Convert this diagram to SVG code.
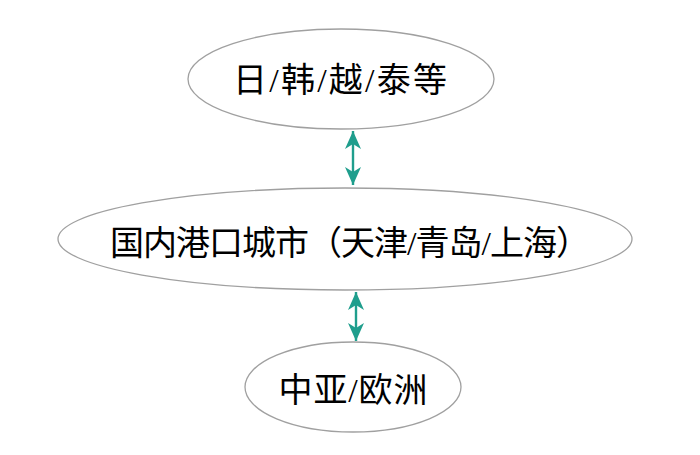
<svg xmlns="http://www.w3.org/2000/svg" width="700" height="455" viewBox="0 0 700 455">
<defs>
<style>
.node ellipse{fill:#ffffff;stroke:#a0a0a0;stroke-width:1.3}
.node text{font-family:"Liberation Serif","Noto Sans CJK SC",serif;font-size:34px;fill:#000;text-anchor:middle}
.conn{stroke:#1f9e8d;stroke-width:2.4;fill:none;marker-start:url(#ah);marker-end:url(#ah)}
</style>
<marker id="ah" viewBox="0 0 18 16" markerWidth="18" markerHeight="16" refX="18" refY="8" orient="auto-start-reverse" markerUnits="userSpaceOnUse">
<path d="M0,0 L18,8 L0,16 L5,8 Z" fill="#1f9e8d"/>
</marker>
</defs>
<rect width="700" height="455" fill="#ffffff"/>
<g id="connectors">
<line class="conn" x1="353" y1="131" x2="353" y2="185"/>
<line class="conn" x1="356" y1="292" x2="356" y2="341"/>
</g>
<g id="node-top" class="node">
<ellipse cx="341" cy="79" rx="153" ry="50"/>
<text x="340" y="92" textLength="214" lengthAdjust="spacing">日/韩/越/泰等</text>
</g>
<g id="node-middle" class="node">
<ellipse cx="345" cy="239" rx="287" ry="51"/>
<text x="350" y="255" font-size="33" textLength="480" lengthAdjust="spacing">国内港口城市（天津/青岛/上海）</text>
</g>
<g id="node-bottom" class="node">
<ellipse cx="353" cy="387" rx="108" ry="45"/>
<text x="353" y="402" textLength="149" lengthAdjust="spacing">中亚/欧洲</text>
</g>
</svg>
